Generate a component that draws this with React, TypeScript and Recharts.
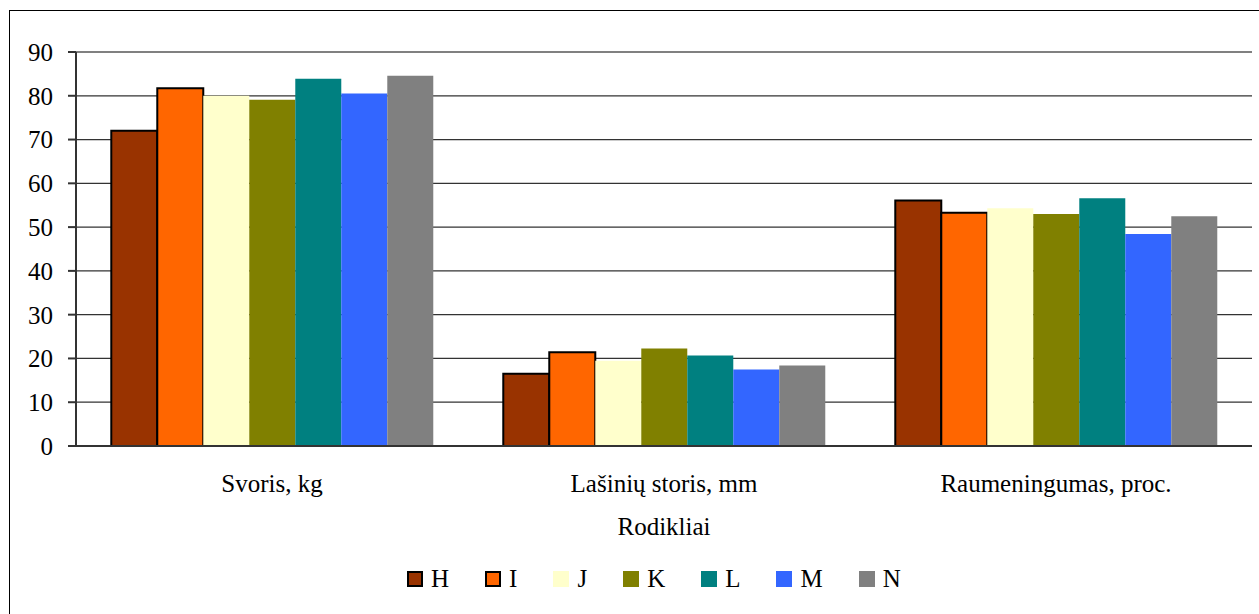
import { BarChart, Bar, XAxis, YAxis, CartesianGrid, Legend, ReferenceLine, Label } from "recharts";

const FONT = "'Liberation Serif', 'Times New Roman', serif";

// groups on the x axis
const categories = ["Svoris, kg", "Lašinių storis, mm", "Raumeningumas, proc."];

// one value per group for each series
const seriesH = [72, 16.5, 56.1];
const seriesI = [81.7, 21.4, 53.3];
const seriesJ = [80, 19.5, 54.3];
const seriesK = [79.1, 22.3, 53];
const seriesL = [83.9, 20.7, 56.6];
const seriesM = [80.5, 17.5, 48.4];
const seriesN = [84.6, 18.4, 52.5];

const yTicks = [0, 10, 20, 30, 40, 50, 60, 70, 80, 90];

const series = [
  { key: "H", values: seriesH, color: "#993300", outlined: true },
  { key: "I", values: seriesI, color: "#FF6600", outlined: true },
  { key: "J", values: seriesJ, color: "#FFFFCC", outlined: false },
  { key: "K", values: seriesK, color: "#808000", outlined: false },
  { key: "L", values: seriesL, color: "#008080", outlined: false },
  { key: "M", values: seriesM, color: "#3366FF", outlined: false },
  { key: "N", values: seriesN, color: "#808080", outlined: false },
];

const data = categories.map((name, i) => {
  const row: Record<string, string | number> = { name };
  series.forEach((s) => {
    row[s.key] = s.values[i];
  });
  return row;
});

// legend: small squares, H and I keep their black outline
const renderLegend = (props: any) => {
  const payload = props.payload || [];
  return (
    <div style={{ display: "flex", alignItems: "center", fontFamily: FONT, fontSize: 25, color: "#000" }}>
      {payload.map((entry: any) => {
        const s = series.find((x) => x.key === entry.value);
        return (
          <div key={entry.value} style={{ display: "flex", alignItems: "center", marginRight: 36 }}>
            <span
              style={{
                display: "inline-block",
                width: 16,
                height: 16,
                boxSizing: "border-box",
                background: entry.color,
                border: s && s.outlined ? "2px solid #000" : "none",
                marginRight: 8,
              }}
            />
            <span style={{ lineHeight: "24px" }}>{entry.value}</span>
          </div>
        );
      })}
    </div>
  );
};

export default function App() {
  return (
    <div style={{ position: "absolute", left: 0, top: 0, width: 1259, height: 614, background: "#fff", overflow: "hidden" }}>
      {/* outer frame */}
      <div
        style={{
          position: "absolute",
          left: 9,
          top: 10,
          width: 1280,
          height: 640,
          border: "1px solid #000",
          boxSizing: "border-box",
        }}
      />
      <BarChart
        width={1259}
        height={614}
        data={data}
        margin={{ top: 52, right: 7, bottom: 60, left: 0 }}
        barCategoryGap="9%"
        barGap={0}
      >
        <CartesianGrid xAxisId="b" vertical={false} stroke="#333" strokeWidth={1.3} />
        {/* category boundary ticks + bottom axis line */}
        <XAxis
          xAxisId="a"
          type="number"
          domain={[0, 3]}
          ticks={[0, 1, 2, 3]}
          tick={false}
          tickSize={8}
          height={8}
          stroke="#333"
          strokeWidth={2}
          allowDataOverflow
        />
        <XAxis
          xAxisId="b"
          dataKey="name"
          axisLine={false}
          tickLine={false}
          tickSize={0}
          tickMargin={20}
          height={100}
          interval={0}
          tick={{ fontFamily: FONT, fontSize: 25, fill: "#000" }}
        >
          <Label value="Rodikliai" position="insideBottom" offset={19} style={{ fontFamily: FONT, fontSize: 25, fill: "#000" }} />
        </XAxis>
        <YAxis
          domain={[0, 90]}
          ticks={yTicks}
          width={76}
          tickSize={8}
          tickMargin={15}
          stroke="#333"
          strokeWidth={2}
          interval={0}
          tick={{ fontFamily: FONT, fontSize: 25, fill: "#000" }}
        />
        <ReferenceLine xAxisId="a" y={90} stroke="#808080" strokeWidth={2} />
        <ReferenceLine xAxisId="a" x={3} stroke="#808080" strokeWidth={2} />
        <Legend
          verticalAlign="middle"
          align="center"
          layout="horizontal"
          wrapperStyle={{ top: 567, left: 407, width: 700 }}
          content={renderLegend}
        />
        {series.map((s) => (
          <Bar
            key={s.key}
            xAxisId="b"
            dataKey={s.key}
            fill={s.color}
            stroke={s.outlined ? "#000" : "none"}
            strokeWidth={s.outlined ? 2 : 0}
            isAnimationActive={false}
          />
        ))}
      </BarChart>
    </div>
  );
}
